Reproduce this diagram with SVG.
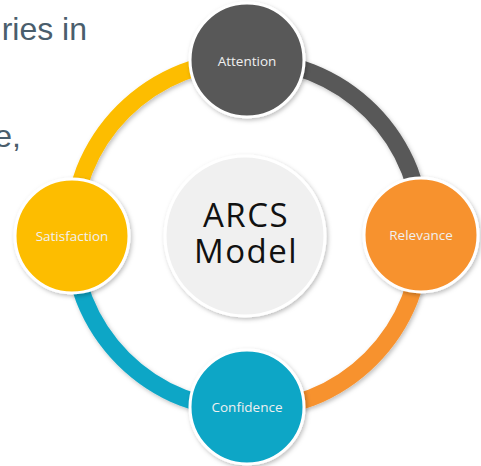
<svg xmlns="http://www.w3.org/2000/svg" width="481" height="466" viewBox="0 0 481 466">
<defs>
<filter id="sh" x="-20%" y="-20%" width="140%" height="140%">
<feDropShadow dx="1.5" dy="2" stdDeviation="2" flood-color="#000" flood-opacity="0.25"/>
</filter>
<style>
.bg{font-family:"Liberation Sans",Arial,sans-serif;font-size:32px;fill:#4a5e6c}
.ring{fill:none;stroke-width:17;filter:url(#sh)}
.node{stroke:#fff;stroke-width:3;filter:url(#sh)}
.lbl{font-family:"Open Sans","Noto Sans",sans-serif;font-size:13.5px;fill:#f0f0f0;text-anchor:middle}
.big{font-family:"Open Sans","Noto Sans",sans-serif;font-size:33px;letter-spacing:1.5px;fill:#111;text-anchor:middle}
</style>
</defs>
<rect width="481" height="466" fill="#fff"/>
<text class="bg" x="87" y="40" text-anchor="end">ries in</text>
<text class="bg" x="21" y="147" text-anchor="end">e,</text>
<g id="connectors">
<path class="ring" stroke="#FDBD00" d="M72,235 A175,175 0 0 1 247,60"/>
<path class="ring" stroke="#595959" d="M247,60 A175,175 0 0 1 422,235"/>
<path class="ring" stroke="#F7922F" d="M422,235 A175,175 0 0 1 247,410"/>
<path class="ring" stroke="#0CA6C6" d="M247,410 A175,175 0 0 1 72,235"/>
</g>
<g id="center">
<circle class="node" cx="245" cy="236" r="80" fill="#F0F0F0"/>
<text class="big" x="246" y="227">ARCS</text>
<text class="big" x="246" y="263">Model</text>
</g>
<g id="attention">
<circle class="node" cx="247" cy="60" r="57" fill="#595959"/>
<text class="lbl" x="247" y="66">Attention</text>
</g>
<g id="relevance">
<circle class="node" cx="421" cy="235" r="57" fill="#F7922F"/>
<text class="lbl" x="421" y="240">Relevance</text>
</g>
<g id="confidence">
<circle class="node" cx="247" cy="407" r="57" fill="#0CA6C6"/>
<text class="lbl" x="247" y="412">Confidence</text>
</g>
<g id="satisfaction">
<circle class="node" cx="72" cy="236" r="57" fill="#FDBD00"/>
<text class="lbl" x="72" y="241">Satisfaction</text>
</g>
</svg>
